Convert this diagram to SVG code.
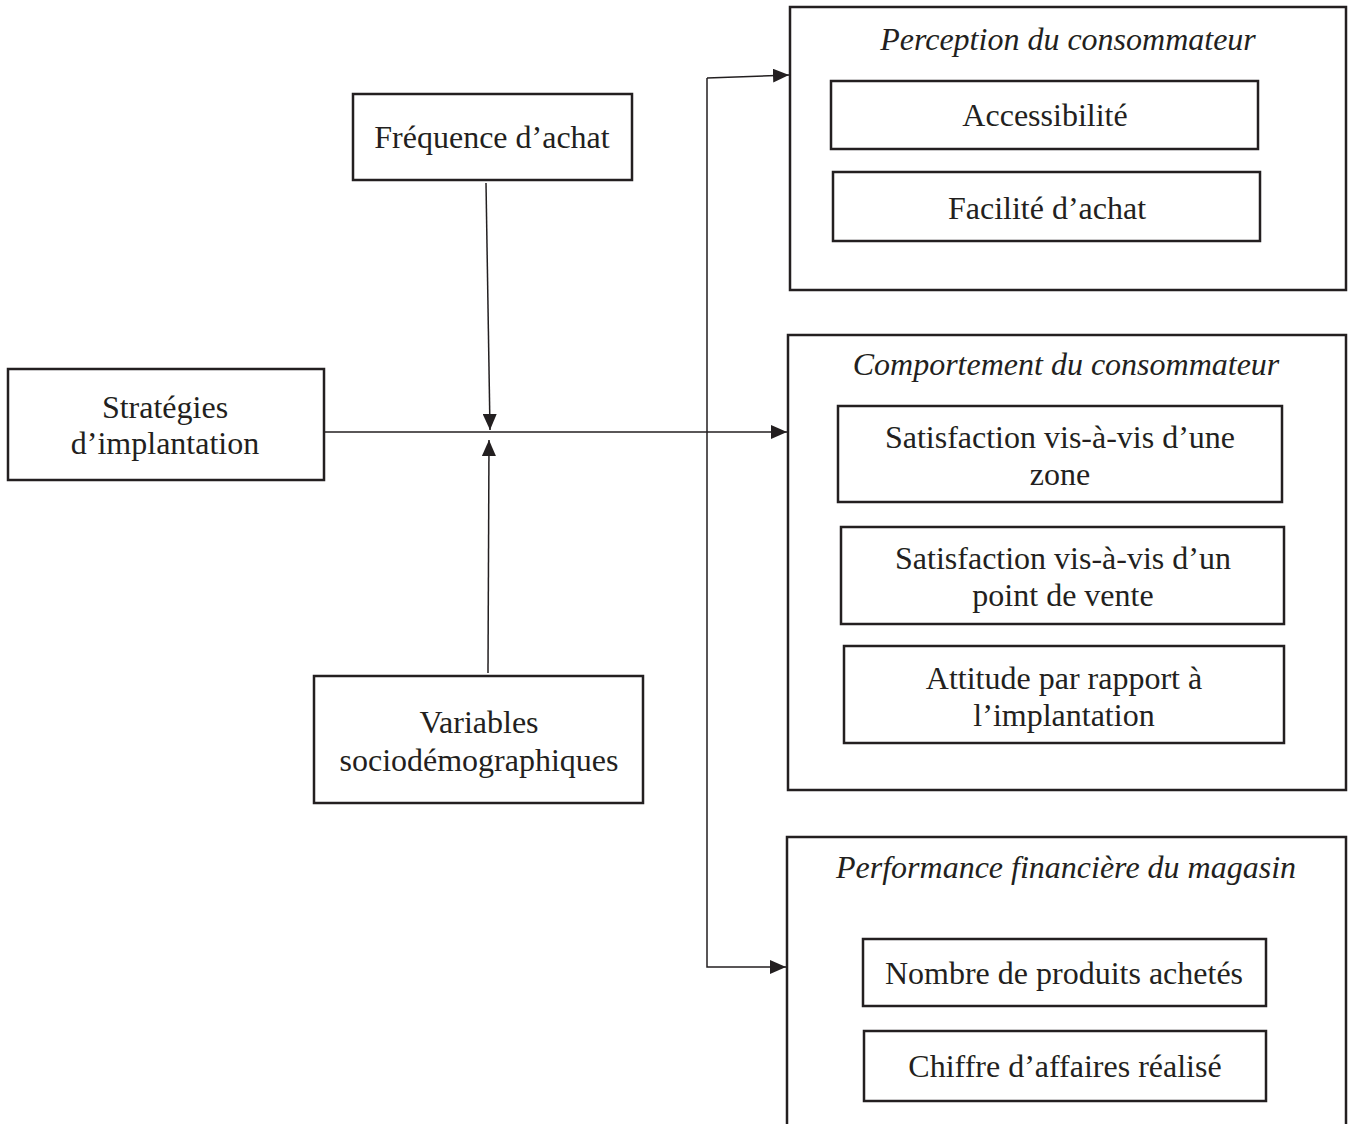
<svg xmlns="http://www.w3.org/2000/svg" width="1350" height="1124" viewBox="0 0 1350 1124">
<style>
.box{fill:#fff;stroke:#231f20;stroke-width:2.5}
.t{font-family:"Liberation Serif","Times New Roman",serif;font-size:32px;fill:#231f20;text-anchor:middle}
.i{font-style:italic}
.ln{fill:none;stroke:#231f20;stroke-width:1.5}
</style>
<defs>
<marker id="ahb" viewBox="0 0 16 14" refX="16" refY="7" markerWidth="16" markerHeight="14" markerUnits="userSpaceOnUse" orient="auto">
<path d="M0,0 L16,7 L0,14 z" fill="#231f20"/>
</marker>
</defs>
<g id="connectors">
<line class="ln" x1="325" y1="432" x2="787" y2="432" marker-end="url(#ahb)"/>
<line class="ln" x1="486" y1="183" x2="490" y2="430" marker-end="url(#ahb)"/>
<line class="ln" x1="488" y1="673" x2="489" y2="440" marker-end="url(#ahb)"/>
<polyline class="ln" points="707,78 707,967 786,967" marker-end="url(#ahb)"/>
<line class="ln" x1="707" y1="78" x2="789" y2="75" marker-end="url(#ahb)"/>
</g>
<g id="n-frequence">
<rect class="box" x="353" y="94" width="279" height="86"/>
<text class="t" x="492" y="148">Fréquence d’achat</text>
</g>
<g id="n-strategies">
<rect class="box" x="8" y="369" width="316" height="111"/>
<text class="t" x="165" y="418">Stratégies</text>
<text class="t" x="165" y="454">d’implantation</text>
</g>
<g id="n-variables">
<rect class="box" x="314" y="676" width="329" height="127"/>
<text class="t" x="479" y="733">Variables</text>
<text class="t" x="479" y="771">sociodémographiques</text>
</g>
<g id="n-perception">
<rect class="box" x="790" y="7" width="556" height="283"/>
<text class="t i" x="1068" y="50">Perception du consommateur</text>
</g>
<g id="n-accessibilite">
<rect class="box" x="831" y="81" width="427" height="68"/>
<text class="t" x="1045" y="126">Accessibilité</text>
</g>
<g id="n-facilite">
<rect class="box" x="833" y="172" width="427" height="69"/>
<text class="t" x="1047" y="219">Facilité d’achat</text>
</g>
<g id="n-comportement">
<rect class="box" x="788" y="335" width="558" height="455"/>
<text class="t i" x="1066" y="375">Comportement du consommateur</text>
</g>
<g id="n-sat-zone">
<rect class="box" x="838" y="406" width="444" height="96"/>
<text class="t" x="1060" y="448">Satisfaction vis-à-vis d’une</text>
<text class="t" x="1060" y="485">zone</text>
</g>
<g id="n-sat-pdv">
<rect class="box" x="841" y="527" width="443" height="97"/>
<text class="t" x="1063" y="569">Satisfaction vis-à-vis d’un</text>
<text class="t" x="1063" y="606">point de vente</text>
</g>
<g id="n-attitude">
<rect class="box" x="844" y="646" width="440" height="97"/>
<text class="t" x="1064" y="689">Attitude par rapport à</text>
<text class="t" x="1064" y="726">l’implantation</text>
</g>
<g id="n-performance">
<rect class="box" x="787" y="837" width="559" height="300"/>
<text class="t i" x="1066" y="878">Performance financière du magasin</text>
</g>
<g id="n-nombre">
<rect class="box" x="863" y="939" width="403" height="67"/>
<text class="t" x="1064" y="984">Nombre de produits achetés</text>
</g>
<g id="n-chiffre">
<rect class="box" x="864" y="1031" width="402" height="70"/>
<text class="t" x="1065" y="1077">Chiffre d’affaires réalisé</text>
</g>
</svg>
